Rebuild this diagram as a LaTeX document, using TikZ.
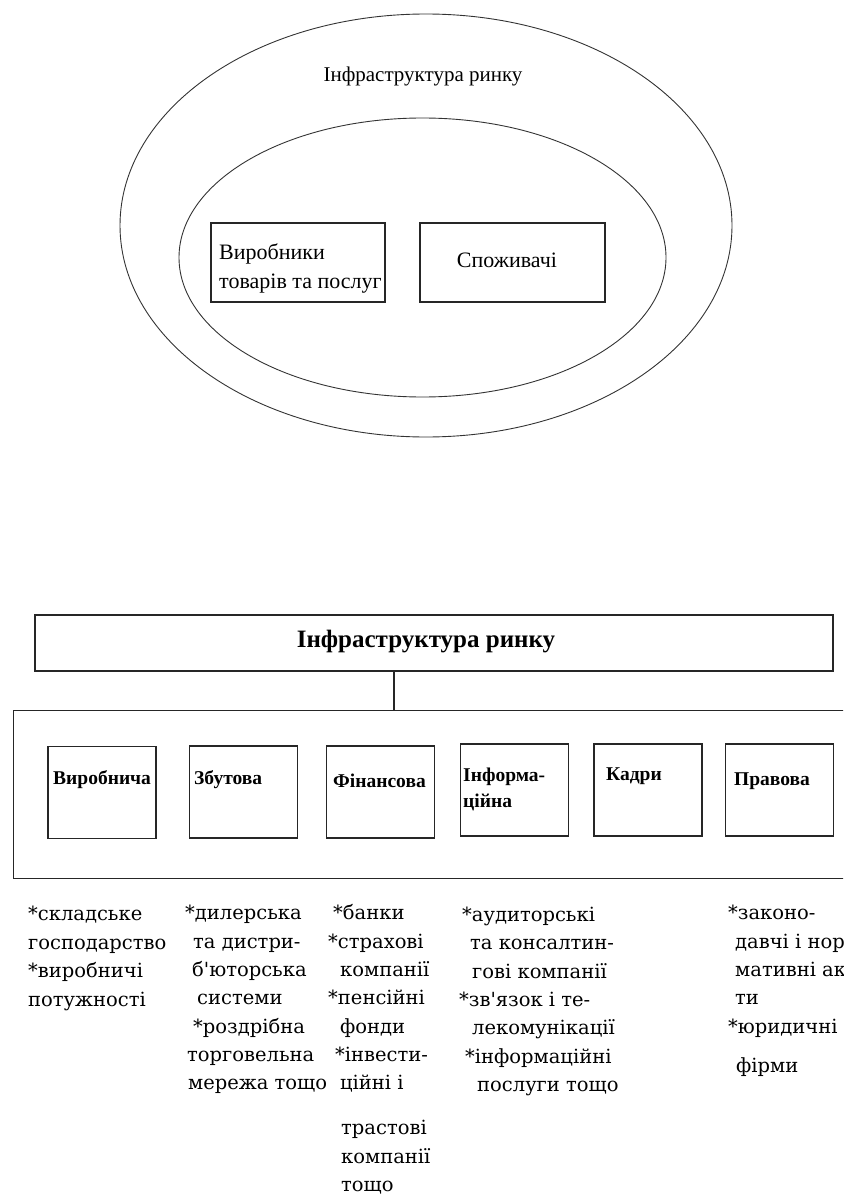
\documentclass[tikz,border=0pt]{standalone}
\usepackage{fontspec}
\setmainfont{Liberation Serif}
\newfontfamily\listfont{DejaVu Serif}
\usetikzlibrary{shapes.geometric}
\begin{document}
\begin{tikzpicture}[x=1pt,y=-1pt,
  frame/.style={draw=black!85, line width=1.2pt, inner sep=0pt},
  oval/.style={draw=black!80, line width=0.9pt, ellipse, inner sep=0pt},
  conn/.style={draw=black!85, line width=1.2pt},
  toptxt/.style={inner sep=0pt, anchor=base, font=\fontsize{21}{25}\selectfont},
  boxtxt/.style={inner sep=0pt, anchor=base west, font=\fontsize{22}{26}\selectfont},
  title/.style={inner sep=0pt, anchor=base, font=\fontsize{25}{29}\selectfont\bfseries},
  lbl/.style={inner sep=0pt, anchor=base west, font=\fontsize{19.5}{23}\selectfont\bfseries},
  li/.style={inner sep=0pt, anchor=base west, font=\listfont\fontsize{19.5}{24}\selectfont},
  smallbox/.style={frame, minimum width=108pt, minimum height=92pt}]
\useasboundingbox (0,0) rectangle (843,1196);
\clip (0,0) rectangle (843,1196);

% ---------- upper picture ----------
\node[oval, minimum width=612pt, minimum height=423pt] (outer) at (426,225.5) {};
\node[oval, minimum width=487pt, minimum height=279pt] (inner) at (422.5,257.5) {};
\node[toptxt] (outerlbl) at (423,82) {Інфраструктура ринку};
\node[frame, minimum width=174pt, minimum height=79pt] (prod) at (298,262.5) {};
\node[frame, minimum width=185pt, minimum height=79pt] (cons) at (512.5,262.5) {};
\node[boxtxt] (prodA) at (219,259) {Виробники};
\node[boxtxt] (prodB) at (219,288) {товарів та послуг};
\node[inner sep=0pt, anchor=base, font=\fontsize{22}{26}\selectfont] (consT) at (507,267) {Споживачі};

% ---------- lower picture ----------
\node[frame, minimum width=798pt, minimum height=56pt] (infra) at (434,643) {};
\node[title] (infraT) at (426,647) {Інфраструктура ринку};
\node[frame, anchor=north west, minimum width=870pt, minimum height=168pt] (group) at (13,710) {};
\coordinate (lx) at (394,0);
\draw[conn] (infra.south -| lx) -- (group.north -| lx);

\node[smallbox] (b1) at (102,792.5) {};
\node[smallbox] (b2) at (243.5,792) {};
\node[smallbox] (b3) at (380.5,792) {};
\node[smallbox] (b4) at (514.5,790) {};
\node[smallbox] (b5) at (648,790) {};
\node[smallbox] (b6) at (779.5,790) {};

\node[lbl] (t1) at (53,784) {Виробнича};
\node[lbl] (t2) at (194,784) {Збутова};
\node[lbl] (t3) at (333,787) {Фінансова};
\node[lbl] (t4a) at (463,781) {Інформа-};
\node[lbl] (t4b) at (463,807) {ційна};
\node[lbl] (t5) at (606,780) {Кадри};
\node[lbl] (t6) at (734,785) {Правова};

% column 1
\node[li] (a1) at (28,920) {*складське};
\node[li] (a2) at (28,949) {господарство};
\node[li] (a3) at (28,977) {*виробничі};
\node[li] (a4) at (28,1006) {потужності};
% column 2
\node[li] (c1) at (185,919) {*дилерська};
\node[li] (c2) at (193,948) {та дистри-};
\node[li] (c3) at (192,976) {б'юторська};
\node[li] (c4) at (197,1004) {системи};
\node[li] (c5) at (193,1033) {*роздрібна};
\node[li] (c6) at (187,1061) {торговельна};
\node[li] (c7) at (188,1089) {мережа тощо};
% column 3
\node[li] (d1) at (333,919) {*банки};
\node[li] (d2) at (328,948) {*страхові};
\node[li] (d3) at (340,976) {компанії};
\node[li] (d4) at (328,1004) {*пенсійні};
\node[li] (d5) at (340,1033) {фонди};
\node[li] (d6) at (335,1061) {*інвести-};
\node[li] (d7) at (340,1089) {ційні і};
\node[li] (d8) at (341,1134) {трастові};
\node[li] (d9) at (341,1163) {компанії};
\node[li] (d10) at (341,1191) {тощо};
% column 4
\node[li] (e1) at (462,921) {*аудиторські};
\node[li] (e2) at (470,949) {та консалтин-};
\node[li] (e3) at (472,978) {гові компанії};
\node[li] (e4) at (459,1006) {*зв'язок і те-};
\node[li] (e5) at (472,1034) {лекомунікації};
\node[li] (e6) at (465,1063) {*інформаційні};
\node[li] (e7) at (477,1091) {послуги тощо};
% column 5
\node[li] (f1) at (728,919) {*законо-};
\node[li] (f2) at (735,948) {давчі і нор};
\node[li] (f3) at (735,976) {мативні ак};
\node[li] (f4) at (735,1004) {ти};
\node[li] (f5) at (728,1033) {*юридичні};
\node[li] (f6) at (736,1072) {фірми};
\end{tikzpicture}
\end{document}
